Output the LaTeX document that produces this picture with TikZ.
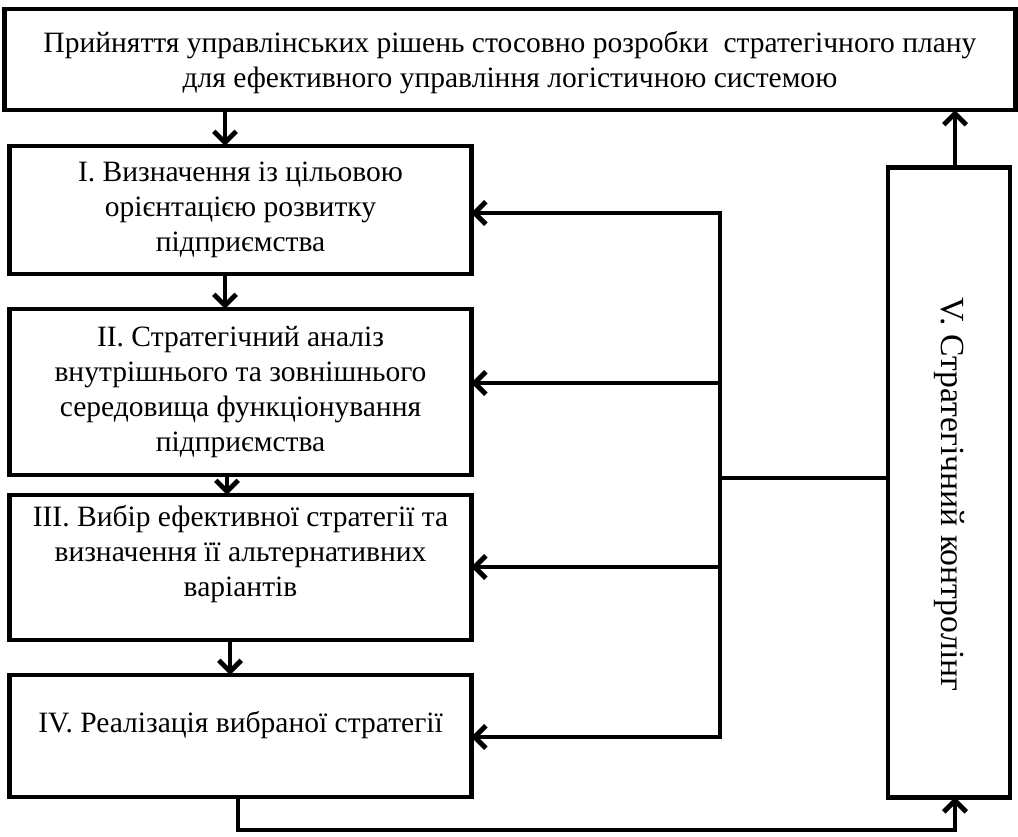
\documentclass[tikz,border=0pt]{standalone}
\usepackage{fontspec}
\setmainfont{Liberation Serif}
\usetikzlibrary{positioning}
\usetikzlibrary{arrows.meta}
\usetikzlibrary{calc}

\tikzset{
  box/.style={draw, line width=3.5pt, rectangle, inner sep=0pt, outer sep=0pt},
  txt/.style={align=center, font=\fontsize{21}{24.8}\selectfont, inner sep=0pt},
  link/.style={line width=3.5pt, -{Straight Barb[length=8pt 0, width=16pt 0, line width=3.5pt]}},
  wire/.style={line width=3.5pt, line cap=rect}
}

\begin{document}
\begin{tikzpicture}[x=0.025cm, y=-0.025cm]
			\useasboundingbox (0,0) rectangle (1018,836);
			% Define the boxes
			\node[box, minimum width=25.25cm, minimum height=2.525cm] (top) at (510,59.5) {};
			\node[box, minimum width=11.525cm, minimum height=3.2cm] (b1) at (240.5,210) {};
			\node[box, minimum width=11.525cm, minimum height=4.15cm] (b2) at (240.5,392) {};
			\node[box, minimum width=11.525cm, minimum height=3.625cm] (b3) at (240.5,567.5) {};
			\node[box, minimum width=11.525cm, minimum height=3.05cm] (b4) at (240.5,736) {};
			\node[box, minimum width=3.05cm, minimum height=15.725cm] (v) at (949,482.5) {};

			% Texts
			\node[txt] (t0) at ($(top)+(0,3)$) {Прийняття управлінських рішень стосовно розробки\ \ стратегічного плану\\для ефективного управління логістичною системою};
			\node[txt] (t1) at (b1) {I. Визначення із цільовою\\орієнтацією розвитку\\підприємства};
			\node[txt] (t2) at (b2) {II. Стратегічний аналіз\\внутрішнього та зовнішнього\\середовища функціонування\\підприємства};
			\node[txt, below=7pt of b3.north] (t3) {III. Вибір ефективної стратегії та\\визначення її альтернативних\\варіантів};
			\node[txt, below=26pt of b4.north] (t4) {IV. Реалізація вибраної стратегії};
			\node[txt, rotate=-90, font=\fontsize{24}{28}\selectfont] (t5) at ($(v)+(0,12)$) {V. Стратегічний контролінг};

			% Define the points of the feedback line
			\coordinate (f1) at (720,213);
			\coordinate (f2) at (720,383);
			\coordinate (f3) at (720,567);
			\coordinate (f4) at (720,737);
			\coordinate (fj) at (720,478);
			\coordinate (bl) at (238,830);

			% Draw the lines
			\draw[link] (top.south -| 225,0) -- (b1.north -| 225,0);
			\draw[link] (b1.south -| 225,0) -- (b2.north -| 225,0);
			\draw[link] (b2.south -| 227,0) -- (b3.north -| 227,0);
			\draw[link] (b3.south -| 230,0) -- (b4.north -| 230,0);
			\draw[wire] (f1) -- (f4);
			\draw[wire] (fj) -- (fj -| v.west);
			\foreach \p/\b in {f1/b1, f2/b2, f3/b3, f4/b4}
				\draw[link] (\p) -- (\p -| \b.east);
			\draw[link] (v.north -| 955,0) -- (top.south -| 955,0);
			\draw[link] (b4.south -| bl) -- (bl) -- (bl -| 955,0) -- (v.south -| 955,0);
\end{tikzpicture}
\end{document}
